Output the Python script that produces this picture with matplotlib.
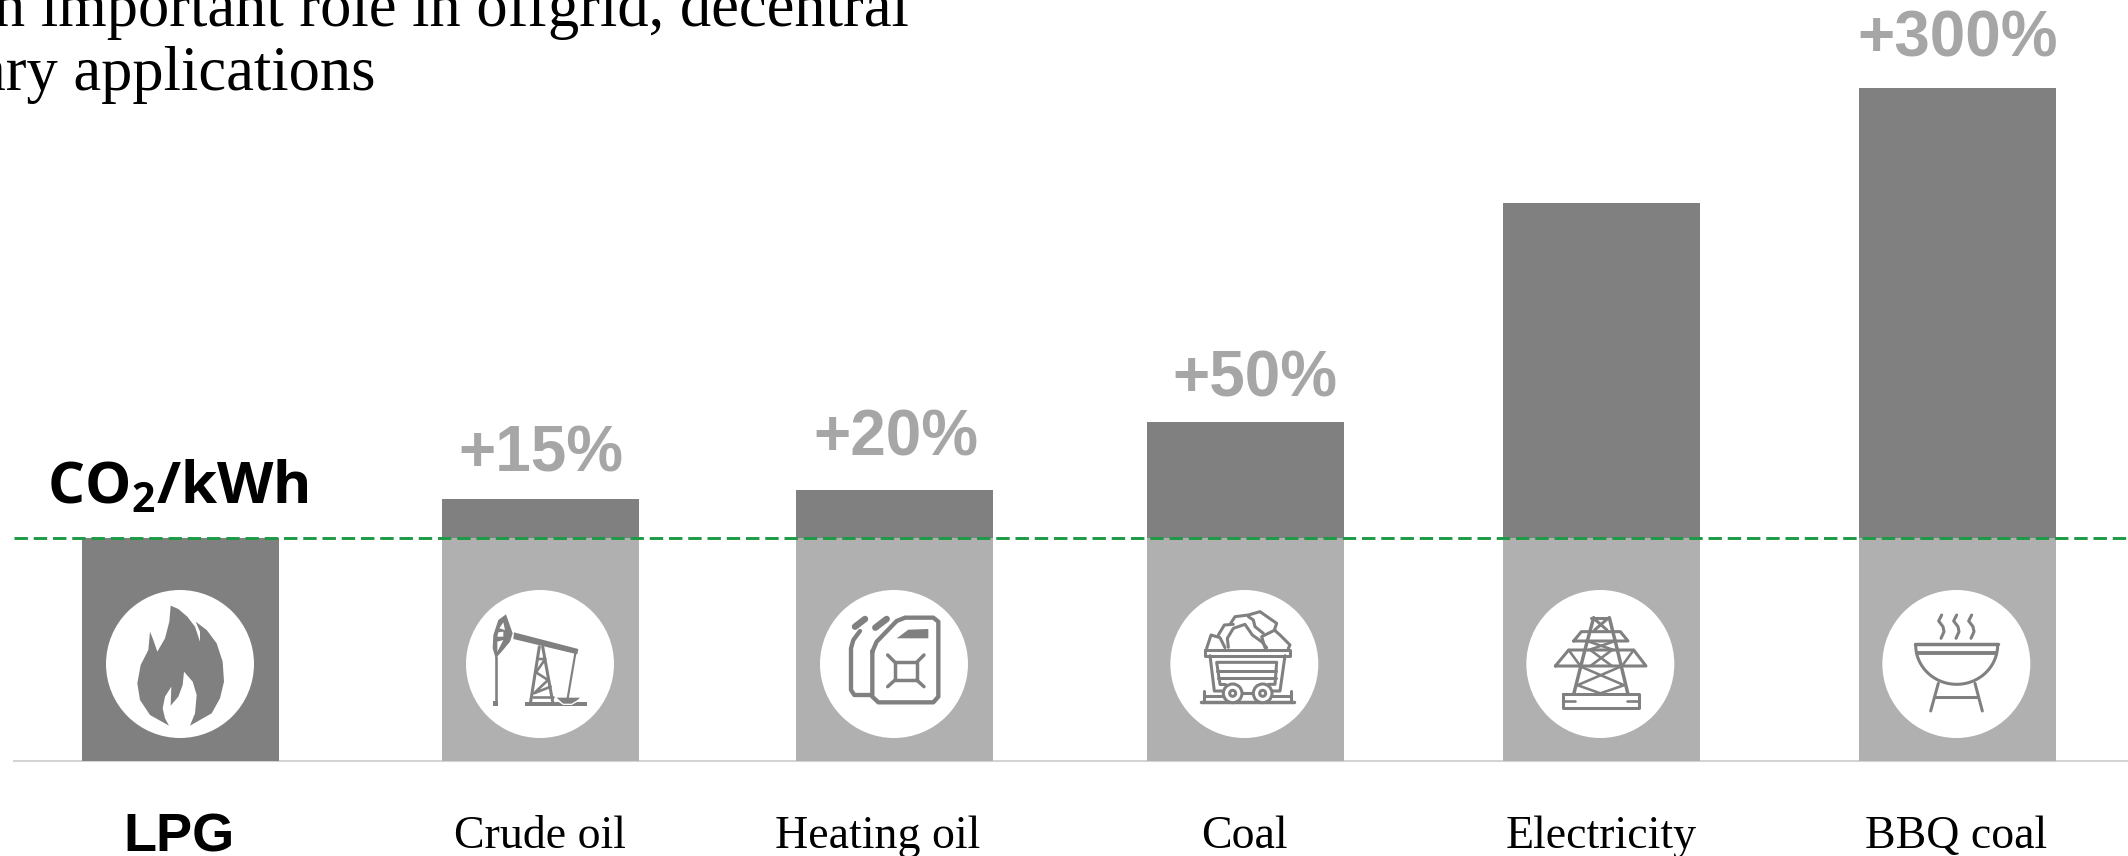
'''
    CO2 per kWh of LPG against other fuels
'''
import numpy as np
import matplotlib
matplotlib.use('Agg')
import matplotlib.pyplot as plt
from matplotlib.patches import Circle, Polygon

# data
categories = ['LPG', 'Crude oil', 'Heating oil', 'Coal', 'Electricity', 'BBQ coal']
co2_index = [100, 117.5, 121.5, 152, 250.3, 301.6]
pct_labels = ['', '+15%', '+20%', '+50%', '', '+300%']

# layout, in pixels of the 2128x856 picture
BAR_X = [180, 540, 894, 1245, 1601, 1957]
BAR_W = 197
LABEL_X = [179, 540, 878, 1244, 1601, 1956]
PCT_X = [0, 541, 896, 1255, 0, 1958]
PCT_GAP = [0, 27, 35, 26, 0, 32]
ICON_X0 = [100, 460, 815, 1165, 1522, 1879]
ICON_CX = [240, 240, 237, 238, 235, 232]

DARK = '#808080'
LIGHT = '#b0b0b0'
PCT_COL = '#a6a6a6'
GREEN = '#1c9a45'
SERIF = 'Liberation Serif'
SANS = 'Liberation Sans'

plt.rcParams['mathtext.fontset'] = 'custom'
plt.rcParams['mathtext.bf'] = 'Open Sans:bold'
plt.rcParams['mathtext.rm'] = 'Open Sans:bold'


def stroke(ax, x0, pts, lw=9, closed=False):
    '''Line of an icon, points given in crop units (3 per pixel)'''
    pts = list(pts) + ([pts[0]] if closed else [])
    xs = [x0 + p[0] / 3 for p in pts]
    ys = [585 + p[1] / 3 for p in pts]
    ax.plot(xs, ys, color=DARK, lw=lw / 3 * 0.72 * 1.3, solid_capstyle='round',
            solid_joinstyle='round', zorder=6)


def fill(ax, x0, pts, col=DARK):
    '''Filled shape of an icon'''
    xy = [(x0 + p[0] / 3, 585 + p[1] / 3) for p in pts]
    ax.add_patch(Polygon(xy, closed=True, fc=col, ec='none', zorder=6))


def ring(ax, x0, cx, cy, r, lw=9):
    '''Circle outline of an icon'''
    ax.add_patch(Circle((x0 + cx / 3, 585 + cy / 3), r / 3, fc='white', ec=DARK,
                        lw=lw / 3 * 0.72 * 1.3, zorder=6))


def flame(ax, x0):
    fill(ax, x0, [(212, 62), (235, 72), (262, 95), (285, 125), (300, 170), (300, 140),
                  (287, 110), (320, 135), (350, 175), (368, 230), (372, 290), (360, 340),
                  (335, 385), (270, 422), (285, 385), (290, 330), (278, 290), (252, 260),
                  (248, 300), (235, 335), (212, 362), (214, 305), (195, 335), (188, 370),
                  (195, 400), (207, 422), (150, 390), (120, 345), (112, 295), (122, 240),
                  (145, 195), (150, 140), (160, 165), (172, 200), (195, 160), (208, 110)])


def pump(ax, x0):
    fill(ax, x0, [(138, 88), (115, 105), (100, 150), (98, 190), (107, 220), (125, 200),
                  (150, 170), (158, 145)])
    for hole in ([(130, 112), (118, 130), (135, 135)], [(115, 142), (112, 155), (130, 155), (130, 140)],
                 [(112, 170), (112, 200), (130, 165)]):
        fill(ax, x0, hole, 'white')
    stroke(ax, x0, [(107, 215), (107, 350)], 6)
    fill(ax, x0, [(100, 348), (115, 348), (115, 364), (100, 364)])
    fill(ax, x0, [(162, 142), (355, 192), (352, 208), (160, 162)])
    fill(ax, x0, [(196, 350), (382, 350), (382, 363), (196, 363)])
    stroke(ax, x0, [(238, 185), (212, 350)], 7)
    stroke(ax, x0, [(248, 185), (278, 350)], 7)
    stroke(ax, x0, [(232, 222), (256, 222), (228, 262), (264, 285), (222, 325), (272, 305)], 6)
    stroke(ax, x0, [(218, 335), (278, 335)], 6)
    stroke(ax, x0, [(346, 205), (323, 340)], 5)
    fill(ax, x0, [(290, 338), (360, 338), (345, 352), (325, 358), (305, 352)])
    stroke(ax, x0, [(292, 346), (310, 358), (335, 358), (352, 348)], 3)
    ax.lines[-1].set_color('white')


def cans(ax, x0):
    stroke(ax, x0, [(135, 138), (115, 165), (108, 190), (108, 315), (118, 330), (170, 330)], 10)
    stroke(ax, x0, [(120, 125), (150, 102)], 15)
    stroke(ax, x0, [(181, 128), (215, 102)], 15)
    stroke(ax, x0, [(172, 200), (172, 335), (190, 352), (355, 352), (370, 335), (370, 110),
                    (355, 98), (270, 98), (245, 108), (185, 170)], 10, closed=True)
    fill(ax, x0, [(245, 160), (280, 134), (340, 132), (340, 160)])
    stroke(ax, x0, [(240, 232), (305, 232), (305, 285), (240, 285)], 8, closed=True)
    for a, b in (((240, 232), (218, 210)), ((305, 232), (327, 210)),
                 ((240, 285), (218, 305)), ((305, 285), (327, 305))):
        stroke(ax, x0, [a, b], 8)


def cart(ax, x0):
    stroke(ax, x0, [(120, 195), (375, 195), (375, 212), (120, 212)], 7, closed=True)
    stroke(ax, x0, [(135, 212), (148, 318), (172, 318)], 7)
    stroke(ax, x0, [(360, 212), (345, 318), (320, 318)], 7)
    stroke(ax, x0, [(165, 298), (155, 232), (335, 232), (330, 298), (310, 298)], 7)
    stroke(ax, x0, [(165, 298), (180, 298)], 7)
    stroke(ax, x0, [(157, 257), (333, 257)], 7)
    stroke(ax, x0, [(160, 280), (332, 280)], 7)
    stroke(ax, x0, [(232, 325), (265, 325)], 7)
    stroke(ax, x0, [(108, 352), (387, 352)], 8)
    stroke(ax, x0, [(118, 318), (118, 345)], 7)
    stroke(ax, x0, [(378, 318), (378, 345)], 7)
    stroke(ax, x0, [(118, 332), (172, 332)], 7)
    stroke(ax, x0, [(322, 332), (378, 332)], 7)
    for cx in (203, 293):
        ring(ax, x0, cx, 325, 28, 7)
        ring(ax, x0, cx, 325, 9, 7)
    stroke(ax, x0, [(125, 190), (138, 150), (165, 158), (180, 188)], 7)
    stroke(ax, x0, [(160, 150), (178, 120), (205, 118)], 7)
    stroke(ax, x0, [(190, 187), (187, 160), (205, 130), (240, 118), (262, 150), (290, 170), (305, 188)], 7)
    stroke(ax, x0, [(197, 115), (210, 95), (250, 90), (285, 80), (335, 115), (328, 135),
                    (345, 150), (375, 180), (370, 190)], 7)
    stroke(ax, x0, [(300, 188), (290, 155), (330, 135)], 7)
    stroke(ax, x0, [(250, 95), (265, 105), (270, 125), (295, 145)], 7)


def tower(ax, x0):
    stroke(ax, x0, [(123, 328), (350, 328), (350, 370), (123, 370)], 7, closed=True)
    stroke(ax, x0, [(125, 348), (160, 348)], 6)
    stroke(ax, x0, [(315, 348), (350, 348)], 6)
    stroke(ax, x0, [(155, 328), (190, 190), (215, 98)], 8)
    stroke(ax, x0, [(318, 328), (285, 190), (262, 98)], 8)
    stroke(ax, x0, [(208, 98), (262, 98)], 7)
    stroke(ax, x0, [(215, 100), (255, 135)], 7)
    stroke(ax, x0, [(258, 100), (218, 135)], 7)
    stroke(ax, x0, [(155, 168), (318, 168), (295, 140), (178, 140)], 7, closed=True)
    stroke(ax, x0, [(100, 243), (372, 243), (335, 195), (140, 195)], 7, closed=True)
    for a, b in (((140, 195), (175, 243)), ((335, 195), (300, 243)), ((205, 195), (270, 243)),
                 ((270, 195), (205, 243)), ((195, 168), (275, 195)), ((280, 168), (200, 195)),
                 ((172, 243), (305, 300)), ((300, 243), (168, 300)), ((165, 300), (235, 325)),
                 ((308, 300), (235, 325))):
        stroke(ax, x0, [a, b], 6)


def grill(ax, x0):
    stroke(ax, x0, [(108, 177), (358, 177)], 8)
    stroke(ax, x0, [(115, 205), (352, 205)], 9)
    ang = np.linspace(0, np.pi, 40)
    bowl = list(zip(233 + 123 * np.cos(ang), 180 + 118 * np.sin(ang)))
    stroke(ax, x0, bowl, 7)
    stroke(ax, x0, [(178, 295), (155, 378)], 7)
    stroke(ax, x0, [(288, 295), (310, 378)], 7)
    stroke(ax, x0, [(168, 335), (298, 335)], 7)
    for dx in (0, 45, 90):
        stroke(ax, x0, [(188 + dx, 90), (179 + dx, 108), (192 + dx, 125), (195 + dx, 140), (186 + dx, 160)], 7)


def plot_chart():
    '''Plotting the bars, the LPG line, texts and icons'''
    fig = plt.figure(figsize=(21.28, 8.56), dpi=100, facecolor='white')

    # bars, y axis in index values, 223 pixels for LPG = 100
    ax = fig.add_axes([0, 0, 1, 1])
    ax.set_xlim(0, 2128)
    ax.set_ylim(-95 / 2.23, 761 / 2.23)
    ax.axis('off')
    base = co2_index[0]
    for i, val in enumerate(co2_index):
        if i == 0:
            ax.bar(BAR_X[i], val, BAR_W, color=DARK, zorder=2)
        else:
            ax.bar(BAR_X[i], base, BAR_W, color=LIGHT, zorder=2)
            ax.bar(BAR_X[i], val - base, BAR_W, bottom=base, color=DARK, zorder=2)
        if pct_labels[i]:
            ax.annotate(pct_labels[i], xy=(PCT_X[i], val), xytext=(0, PCT_GAP[i] * 0.72),
                        textcoords='offset points', ha='center', va='baseline',
                        fontsize=46, fontweight='bold', family=SANS, color=PCT_COL)
    ax.plot([14, 2128], [0, 0], color='#d4d4d4', lw=1.5, zorder=1)
    ax.plot([14, 2128], [base, base], color=GREEN, lw=2.1, dashes=(4.6, 2.0), zorder=4)

    # icons and text, in picture pixels
    top = fig.add_axes([0, 0, 1, 1], facecolor='none')
    top.set_xlim(0, 2128)
    top.set_ylim(856, 0)
    top.axis('off')
    icons = [flame, pump, cans, cart, tower, grill]
    for i, draw in enumerate(icons):
        top.add_patch(Circle((ICON_X0[i] + ICON_CX[i] / 3, 664), 74, fc='white', ec='none', zorder=5))
        draw(top, ICON_X0[i])

    for i, name in enumerate(categories):
        if i == 0:
            top.text(LABEL_X[i], 851, name, ha='center', va='baseline', fontsize=39,
                     fontweight='bold', family=SANS, color='black')
        else:
            top.text(LABEL_X[i], 848, name, ha='center', va='baseline', fontsize=33,
                     family=SERIF, color='black')

    top.text(909, 26, 'n important role in offgrid, decentral', ha='right', va='baseline',
             fontsize=45, family=SERIF, color='black')
    top.text(375, 90, 'ary applications', ha='right', va='baseline',
             fontsize=45, family=SERIF, color='black')
    top.text(47, 504, r'$\mathbf{CO_2/kWh}$', ha='left', va='baseline', fontsize=42, color='black')

    fig.savefig('out.png', dpi=100)


plot_chart()
